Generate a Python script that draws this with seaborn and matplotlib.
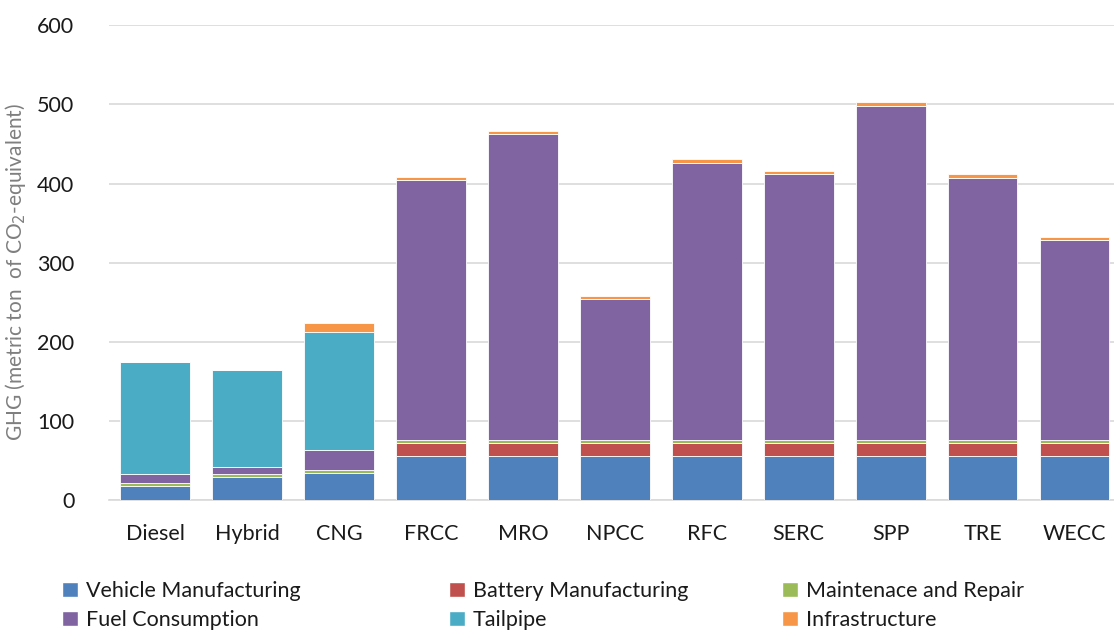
import pandas as pd
import matplotlib
matplotlib.use("Agg")
import matplotlib.pyplot as plt
import seaborn as sns
from matplotlib.patches import Patch

categories = ["Diesel", "Hybrid", "CNG", "FRCC", "MRO", "NPCC", "RFC", "SERC", "SPP", "TRE", "WECC"]

vehicle_mfg = [18, 29, 35, 56, 56, 56, 56, 56, 56, 56, 56]
battery_mfg = [0, 0, 0, 16, 16, 16, 16, 16, 16, 16, 16]
maintenance = [4, 4.5, 3, 4.5, 4.5, 4.5, 4.5, 4.5, 4.5, 4.5, 4.5]
fuel = [11, 9, 25, 328, 386, 178, 350, 335, 422, 331, 252]
tailpipe = [142, 122, 150, 0, 0, 0, 0, 0, 0, 0, 0]
infrastructure = [0, 0, 10.5, 4, 4, 4, 4, 4, 4, 4, 4]

components = ["Vehicle Manufacturing", "Battery Manufacturing", "Maintenace and Repair",
              "Fuel Consumption", "Tailpipe", "Infrastructure"]
colors = ["#4F81BD", "#C0504D", "#9BBB59", "#8064A2", "#4BACC6", "#F79646"]

df = pd.DataFrame({
    "category": categories,
    "Vehicle Manufacturing": vehicle_mfg,
    "Battery Manufacturing": battery_mfg,
    "Maintenace and Repair": maintenance,
    "Fuel Consumption": fuel,
    "Tailpipe": tailpipe,
    "Infrastructure": infrastructure,
})

sns.set_theme(style="white")
plt.rcParams["font.family"] = ["Lato", "DejaVu Sans"]

fig = plt.figure(figsize=(11.14, 6.3), dpi=100)
ax = fig.add_axes([0.098, 0.206, 0.902, 0.754])

# stack the components one on top of the other
bottom = pd.Series([0.0] * len(df))
for comp, col in zip(components, colors):
    sns.barplot(data=df, x="category", y=comp, color=col, saturation=1, bottom=bottom.values,
                width=0.76, edgecolor="white", linewidth=0.6, ax=ax, zorder=3)
    bottom = bottom + df[comp]

ax.set_ylim(0, 600)
ax.set_xlim(-0.5, 10.43)
ax.set_yticks(range(0, 601, 100))
ax.yaxis.grid(True, color="#D9D9D9", linewidth=1.2, zorder=0)
ax.xaxis.grid(False)
for s in ["top", "right", "left"]:
    ax.spines[s].set_visible(False)
ax.spines["bottom"].set_color("#D9D9D9")
ax.spines["bottom"].set_linewidth(1.2)
ax.tick_params(axis="both", length=0, labelsize=15.5, labelcolor="#1a1a1a")
ax.tick_params(axis="x", pad=17)
ax.tick_params(axis="y", pad=25)
ax.set_xlabel("")
ax.set_ylabel("GHG (metric ton  of CO$_2$-equivalent)", fontsize=15, color="#7F7F7F")
ax.yaxis.set_label_coords(-0.081, 0.48)

# legend: three columns of two rows each
handles = [Patch(facecolor=c, label=l) for c, l in zip(colors, components)]
col_x = [62, 449, 782]
for j, x in enumerate(col_x):
    pair = [handles[j], handles[j + 3]]
    leg = fig.legend(pair, [h.get_label() for h in pair], loc="upper left",
                     bbox_to_anchor=(x / 1114, 1 - 581 / 630), frameon=False,
                     fontsize=15.5, handlelength=0.75, handleheight=0.75, handletextpad=0.35,
                     labelspacing=0.42, borderpad=0, borderaxespad=0)
    for t in leg.get_texts():
        t.set_color("#1a1a1a")

fig.savefig("out.png", dpi=100)
